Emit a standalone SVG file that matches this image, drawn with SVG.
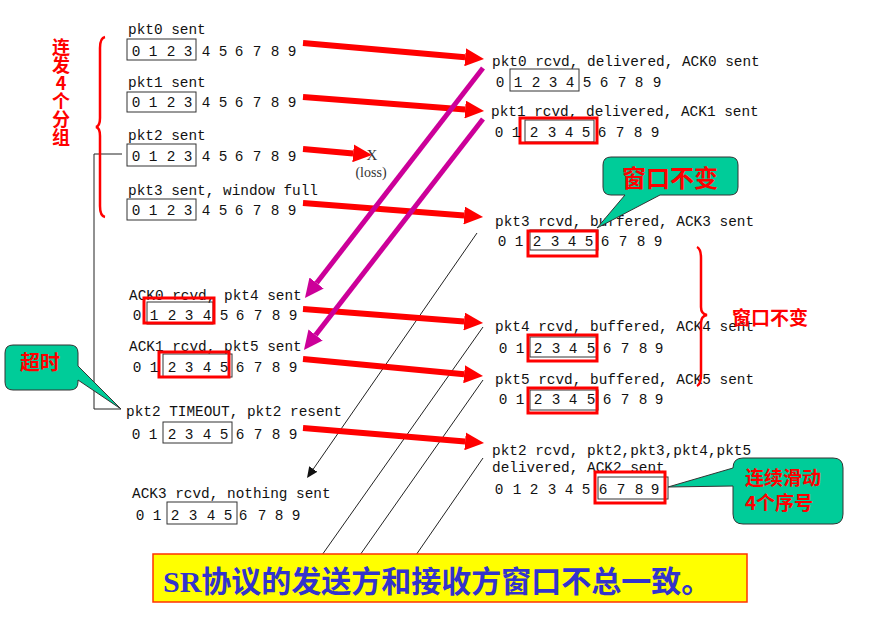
<svg xmlns="http://www.w3.org/2000/svg" width="877" height="631" viewBox="0 0 877 631">
<defs>
<style>
.lbl{font-family:"Liberation Mono","DejaVu Sans Mono",monospace;font-size:14.4px;fill:#111}
.dig{font-family:"Liberation Mono","DejaVu Sans Mono",monospace;font-size:14.4px;fill:#111;text-anchor:middle}
.bx{fill:none;stroke:#333;stroke-width:1}
.rbx{fill:none;stroke:#ff0000;stroke-width:3}
.red{stroke:#ff0000;stroke-width:6;fill:none;marker-end:url(#hRed)}
.mag{stroke:#cc0099;stroke-width:5;fill:none;marker-end:url(#hMag)}
.thin{stroke:#222;stroke-width:1;fill:none}
.call{fill:#00cc99;stroke:#333;stroke-width:1}
.ctx{font-family:"Noto Sans CJK SC","Liberation Sans",sans-serif;font-weight:bold;fill:#ff0000}
.brace{fill:none;stroke:#ff0000;stroke-width:2.5}
.vert{writing-mode:vertical-rl;text-orientation:upright;font-size:18px}
</style>
<marker id="hRed" markerUnits="userSpaceOnUse" markerWidth="19" markerHeight="18" viewBox="0 0 19 18" refX="0" refY="9" orient="auto"><path d="M0,0 L19,9 L0,18 Z" fill="#ff0000"/></marker>
<marker id="hMag" markerUnits="userSpaceOnUse" markerWidth="19" markerHeight="18" viewBox="0 0 19 18" refX="0" refY="9" orient="auto"><path d="M0,0 L19,9 L0,18 Z" fill="#cc0099"/></marker>
<marker id="hBlk" markerUnits="userSpaceOnUse" markerWidth="11" markerHeight="10" viewBox="0 0 11 10" refX="0" refY="5" orient="auto"><path d="M0,0 L11,5 L0,10 Z" fill="#111"/></marker>
</defs>
<rect width="877" height="631" fill="#ffffff"/>

<g id="connectors">
<line class="thin" x1="477" y1="233" x2="313.3" y2="469" marker-end="url(#hBlk)"/>
<line class="thin" x1="483" y1="327" x2="322" y2="555"/>
<line class="thin" x1="483" y1="380" x2="360" y2="555"/>
<line class="thin" x1="483" y1="458" x2="416" y2="555"/>
<line class="red" x1="303" y1="43" x2="465.1" y2="57.3"/>
<line class="red" x1="303" y1="97" x2="465.1" y2="109.5"/>
<line class="red" x1="303" y1="149" x2="353.1" y2="153.4"/>
<line class="red" x1="303" y1="203" x2="464.1" y2="215.5"/>
<line class="red" x1="303" y1="309" x2="464.1" y2="321.5"/>
<line class="red" x1="303" y1="359" x2="464.1" y2="374.2"/>
<line class="red" x1="303" y1="428" x2="465.1" y2="441.4"/>
<line class="mag" x1="483" y1="68" x2="316.6" y2="283"/>
<line class="mag" x1="483" y1="119" x2="315.6" y2="335"/>
<polyline class="thin" points="122,154 94,154 94,409 121,409"/>
</g>

<g id="loss">
<text x="372" y="160" text-anchor="middle" style="font-family:'Liberation Serif',serif;font-size:15px;fill:#333">X</text>
<text x="371" y="177" text-anchor="middle" style="font-family:'Liberation Serif',serif;font-size:14px;fill:#333">(loss)</text>
</g>

<g id="s0">
<text class="lbl" x="128" y="34">pkt0 sent</text>
<rect class="bx" x="127" y="39" width="69" height="21"/>
<text class="dig" x="136 144.5 153 162 171 179.5 188 197 206 214.5 223 231 239 248 257 266 275 283.5 292" y="56">0 1 2 3 4 5 6 7 8 9</text>
</g>
<g id="s1">
<text class="lbl" x="128" y="87">pkt1 sent</text>
<rect class="bx" x="127" y="92" width="69" height="20"/>
<text class="dig" x="136 144.5 153 162 171 179.5 188 197 206 214.5 223 231 239 248 257 266 275 283.5 292" y="107">0 1 2 3 4 5 6 7 8 9</text>
</g>
<g id="s2">
<text class="lbl" x="128" y="140">pkt2 sent</text>
<rect class="bx" x="127" y="144" width="69" height="22"/>
<text class="dig" x="136 144.5 153 162 171 179.5 188 197 206 214.5 223 231 239 248 257 266 275 283.5 292" y="161">0 1 2 3 4 5 6 7 8 9</text>
</g>
<g id="s3">
<text class="lbl" x="128" y="195">pkt3 sent, window full</text>
<rect class="bx" x="127" y="199" width="69" height="21"/>
<text class="dig" x="136 144.5 153 162 171 179.5 188 197 206 214.5 223 231 239 248 257 266 275 283.5 292" y="215">0 1 2 3 4 5 6 7 8 9</text>
</g>
<g id="s4">
<text class="lbl" x="129" y="300">ACK0 rcvd, pkt4 sent</text>
<rect class="bx" x="147" y="302" width="66" height="22"/>
<rect class="rbx" x="144" y="298" width="70" height="25"/>
<text class="dig" x="137 145.5 154 163 172 180.5 189 198 207 215.5 224 232 240 249 258 267 276 284.5 293" y="320">0 1 2 3 4 5 6 7 8 9</text>
</g>
<g id="s5">
<text class="lbl" x="129" y="351">ACK1 rcvd, pkt5 sent</text>
<rect class="bx" x="163" y="354" width="69" height="23"/>
<rect class="rbx" x="159" y="352" width="70" height="25"/>
<text class="dig" x="137 145.5 154 163 172 180.5 189 198 207 215.5 224 232 240 249 258 267 276 284.5 293" y="372">0 1 2 3 4 5 6 7 8 9</text>
</g>
<g id="s6">
<text class="lbl" x="126" y="416">pkt2 TIMEOUT, pkt2 resent</text>
<rect class="bx" x="163" y="422" width="69" height="21"/>
<text class="dig" x="136 144.5 153 162.5 172 180.5 189 198 207 215.5 224 232 240 249 258 267 276 284.5 293" y="439">0 1 2 3 4 5 6 7 8 9</text>
</g>
<g id="s7">
<text class="lbl" x="132" y="498">ACK3 rcvd, nothing sent</text>
<rect class="bx" x="167" y="502" width="70" height="22"/>
<text class="dig" x="140 148.5 157 166 175 184 193 202 211 219.5 228 235.5 243 252.5 262 270.5 279 287.5 296" y="520">0 1 2 3 4 5 6 7 8 9</text>
</g>

<g id="r0">
<text class="lbl" x="492" y="66">pkt0 rcvd, delivered, ACK0 sent</text>
<rect class="bx" x="510" y="69" width="69" height="22"/>
<text class="dig" x="500 509 518 527 536 544.5 553 561.5 570 578.5 587 595.5 604 613 622 630.5 639 648 657" y="87">0 1 2 3 4 5 6 7 8 9</text>
</g>
<g id="r1">
<text class="lbl" x="491" y="116">pkt1 rcvd, delivered, ACK1 sent</text>
<rect class="bx" x="525" y="120" width="69" height="22"/>
<rect class="rbx" x="520" y="118" width="77" height="25"/>
<text class="dig" x="499 507.5 516 525 534 543 552 560.5 569 577.5 586 594 602 611 620 629 638 646.5 655" y="137">0 1 2 3 4 5 6 7 8 9</text>
</g>
<g id="r3">
<text class="lbl" x="495" y="226">pkt3 rcvd, buffered, ACK3 sent</text>
<rect class="bx" x="530" y="230" width="68" height="20"/>
<rect class="rbx" x="528" y="231" width="69" height="25"/>
<text class="dig" x="502 510.5 519 528 537 546 555 563.5 572 580.5 589 597 605 614 623 632 641 649.5 658" y="246">0 1 2 3 4 5 6 7 8 9</text>
</g>
<g id="r4">
<text class="lbl" x="495" y="331">pkt4 rcvd, buffered, ACK4 sent</text>
<rect class="bx" x="530" y="337" width="67" height="20"/>
<rect class="rbx" x="528" y="335" width="69" height="26"/>
<text class="dig" x="503 511.5 520 529 538 547 556 564.5 573 582 591 599 607 616 625 634 643 651 659" y="353">0 1 2 3 4 5 6 7 8 9</text>
</g>
<g id="r5">
<text class="lbl" x="495" y="384">pkt5 rcvd, buffered, ACK5 sent</text>
<rect class="bx" x="530" y="390" width="68" height="20"/>
<rect class="rbx" x="528" y="388" width="69" height="25"/>
<text class="dig" x="503 511.5 520 529 538 547 556 564.5 573 582 591 599 607 616 625 634 643 651 659" y="404">0 1 2 3 4 5 6 7 8 9</text>
</g>
<g id="r2">
<text class="lbl" x="492" y="455">pkt2 rcvd, pkt2,pkt3,pkt4,pkt5</text>
<text class="lbl" x="492" y="472">delivered, ACK2 sent</text>
<rect class="bx" x="598" y="477" width="70" height="22"/>
<rect class="rbx" x="595" y="472" width="70" height="31"/>
<text class="dig" x="499 508 517 525.5 534 543 552 560.5 569 577.5 586 594.5 603 612 621 630 639 647 655" y="494">0 1 2 3 4 5 6 7 8 9</text>
</g>

<g id="brace-left">
<path class="brace" d="M105,37 Q100,38 100,48 L100,118 Q100,126 96,127 Q100,128 100,136 L100,206 Q100,216 105,217"/>
<text class="ctx vert" x="61" y="38">连发4个分组</text>
</g>

<g id="brace-right">
<path class="brace" d="M697,247 Q701,249 701,258 L701,307 Q701,314 707,315 Q701,316 701,323 L701,375 Q701,384 697,386"/>
<text class="ctx" x="770" y="325" text-anchor="middle" style="font-size:19px">窗口不变</text>
</g>

<g id="callout-window">
<path class="call" d="M611,157 H730 Q738,157 738,165 V187 Q738,195 730,195 H660 L597,228 L625,195 H611 Q603,195 603,187 V165 Q603,157 611,157 Z"/>
<text class="ctx" x="670" y="187" text-anchor="middle" style="font-size:24px">窗口不变</text>
</g>

<g id="callout-timeout">
<path class="call" d="M13,345 H70 Q78,345 78,353 V366 L121,409 L78,380 V382 Q78,390 70,390 H13 Q5,390 5,382 V353 Q5,345 13,345 Z"/>
<text class="ctx" x="40" y="370" text-anchor="middle" style="font-size:20px">超时</text>
</g>

<g id="callout-slide">
<path class="call" d="M743,458 H833 Q843,458 843,468 V514 Q843,524 833,524 H743 Q733,524 733,514 V486 L668,487 L733,468 Q733,458 743,458 Z"/>
<text class="ctx" x="783" y="485" text-anchor="middle" style="font-size:19px">连续滑动</text>
<text class="ctx" x="779" y="510" text-anchor="middle" style="font-size:19px">4个序号</text>
</g>

<g id="banner">
<rect x="153" y="554" width="594" height="48" fill="#ffff00" stroke="#ff3300" stroke-width="1.5"/>
<text x="163" y="592" style="font-family:'Liberation Serif','Noto Sans CJK SC',serif;font-weight:bold;font-size:30px;fill:#3333cc">SR协议的发送方和接收方窗口不总一致。</text>
</g>
</svg>
